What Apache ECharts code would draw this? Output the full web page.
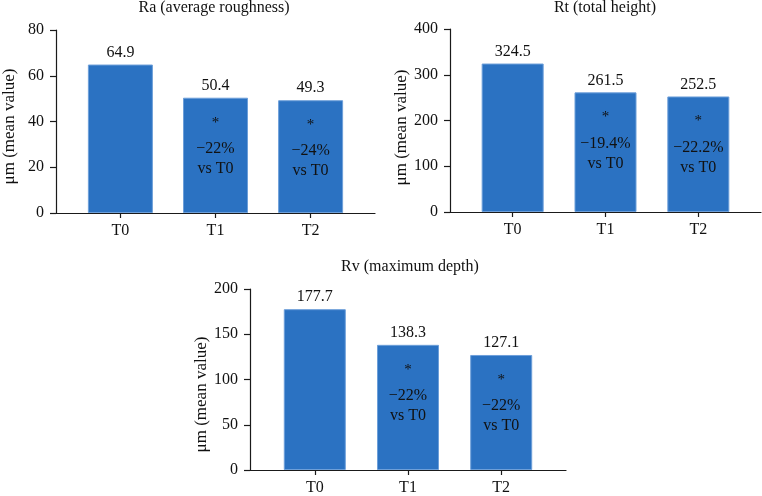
<!DOCTYPE html>
<html>
<head>
<meta charset="utf-8">
<script src="https://cdn.jsdelivr.net/npm/echarts@6/dist/echarts.min.js"></script>
<style>
html,body{margin:0;padding:0;background:#fff;}
#c{width:762px;height:496px;}
</style>
</head>
<body>
<div id="c"></div>
<script>
const categories = ['T0', 'T1', 'T2'];
const raValues = [64.9, 50.4, 49.3];
const rtValues = [324.5, 261.5, 252.5];
const rvValues = [177.7, 138.3, 127.1];
const raNotes = ['', '−22%', '−24%'];
const rtNotes = ['', '−19.4%', '−22.2%'];
const rvNotes = ['', '−22%', '−22%'];
const chartTitles = ['Ra (average roughness)', 'Rt (total height)', 'Rv (maximum depth)'];
const yMaxes = [80, 400, 200];
const yIntervals = [20, 100, 50];
const yName = 'μm (mean value)';
const noteSuffix = 'vs T0';

const FONT = 'Liberation Serif';
const BAR = '#2b72c2';
const AX = '#1a1a1a';

const panels = [
  {grid: {left: 53, top: 30, width: 322, height: 183}, margin: 0.677, barW: 65, title: {x: 214, y: 0}, namePad: 10, values: raValues, notes: raNotes},
  {grid: {left: 450, top: 29, width: 311, height: 183}, margin: 0.675, barW: 62, title: {x: 605, y: 0}, namePad: 14, values: rtValues, notes: rtNotes},
  {grid: {left: 250, top: 289, width: 316, height: 183}, margin: 0.695, barW: 62, title: {x: 410, y: 259}, namePad: 30, values: rvValues, notes: rvNotes}
];

const option = {
  animation: false,
  backgroundColor: '#fff',
  title: [], grid: [], xAxis: [], yAxis: [], series: []
};

panels.forEach((p, i) => {
  option.title.push({
    text: chartTitles[i], left: p.title.x, top: p.title.y, textAlign: 'center', padding: 0,
    textStyle: {fontFamily: FONT, fontSize: 16, fontWeight: 'normal', color: '#111'}
  });
  option.grid.push(Object.assign({containLabel: false}, p.grid));
  option.xAxis.push({
    type: 'value', gridIndex: i, min: -p.margin, max: categories.length - 1 + p.margin,
    splitLine: {show: false},
    axisLine: {show: true, onZero: false, lineStyle: {color: AX, width: 1.2}},
    axisTick: {show: true, length: 5, customValues: categories.map((c, k) => k), lineStyle: {color: AX, width: 1.2}},
    axisLabel: {customValues: categories.map((c, k) => k), formatter: v => categories[Math.round(v)], margin: 10,
      fontFamily: FONT, fontSize: 16, color: '#111'}
  });
  option.yAxis.push({
    type: 'value', gridIndex: i, min: 0, max: yMaxes[i], interval: yIntervals[i],
    splitLine: {show: false},
    axisLine: {show: true, onZero: false, lineStyle: {color: AX, width: 1.2}},
    axisTick: {show: true, length: 6, lineStyle: {color: AX, width: 1.2}},
    axisLabel: {margin: 12, fontFamily: FONT, fontSize: 16, color: '#111'},
    name: yName, nameLocation: 'middle', nameGap: 38,
    nameTextStyle: {fontFamily: FONT, fontSize: 17, color: '#111', padding: [0, p.namePad, 0, 0]}
  });
  option.series.push({
    type: 'bar', xAxisIndex: i, yAxisIndex: i, barWidth: p.barW,
    data: p.values.map((v, k) => [k, v]),
    itemStyle: {color: BAR, borderColor: '#6d9fd9', borderWidth: 1},
    label: {show: true, position: 'top', distance: 4, formatter: d => d.value[1].toFixed(1),
      fontFamily: FONT, fontSize: 16, color: '#111'}
  });
  option.series.push({
    type: 'bar', xAxisIndex: i, yAxisIndex: i, barWidth: p.barW, barGap: '-100%',
    data: p.values.map((v, k) => [k, v]),
    itemStyle: {color: 'rgba(0,0,0,0)'},
    label: {show: true, position: 'insideTop', distance: 17,
      formatter: d => p.notes[d.dataIndex] ? '{s|*}\n{g| }\n{p|' + p.notes[d.dataIndex] + '}\n{v|' + noteSuffix + '}' : '',
      rich: {
        s: {fontFamily: FONT, fontSize: 15, lineHeight: 16, color: '#111', align: 'center'},
        g: {fontFamily: FONT, fontSize: 6, lineHeight: 9, color: '#111', align: 'center'},
        p: {fontFamily: FONT, fontSize: 16, lineHeight: 18, color: '#111', align: 'center'},
        v: {fontFamily: FONT, fontSize: 16, lineHeight: 22, color: '#111', align: 'center'}
      }
    }
  });
});

const chart = echarts.init(document.getElementById('c'), null, {renderer: 'canvas'});
chart.setOption(option);
</script>
</body>
</html>
